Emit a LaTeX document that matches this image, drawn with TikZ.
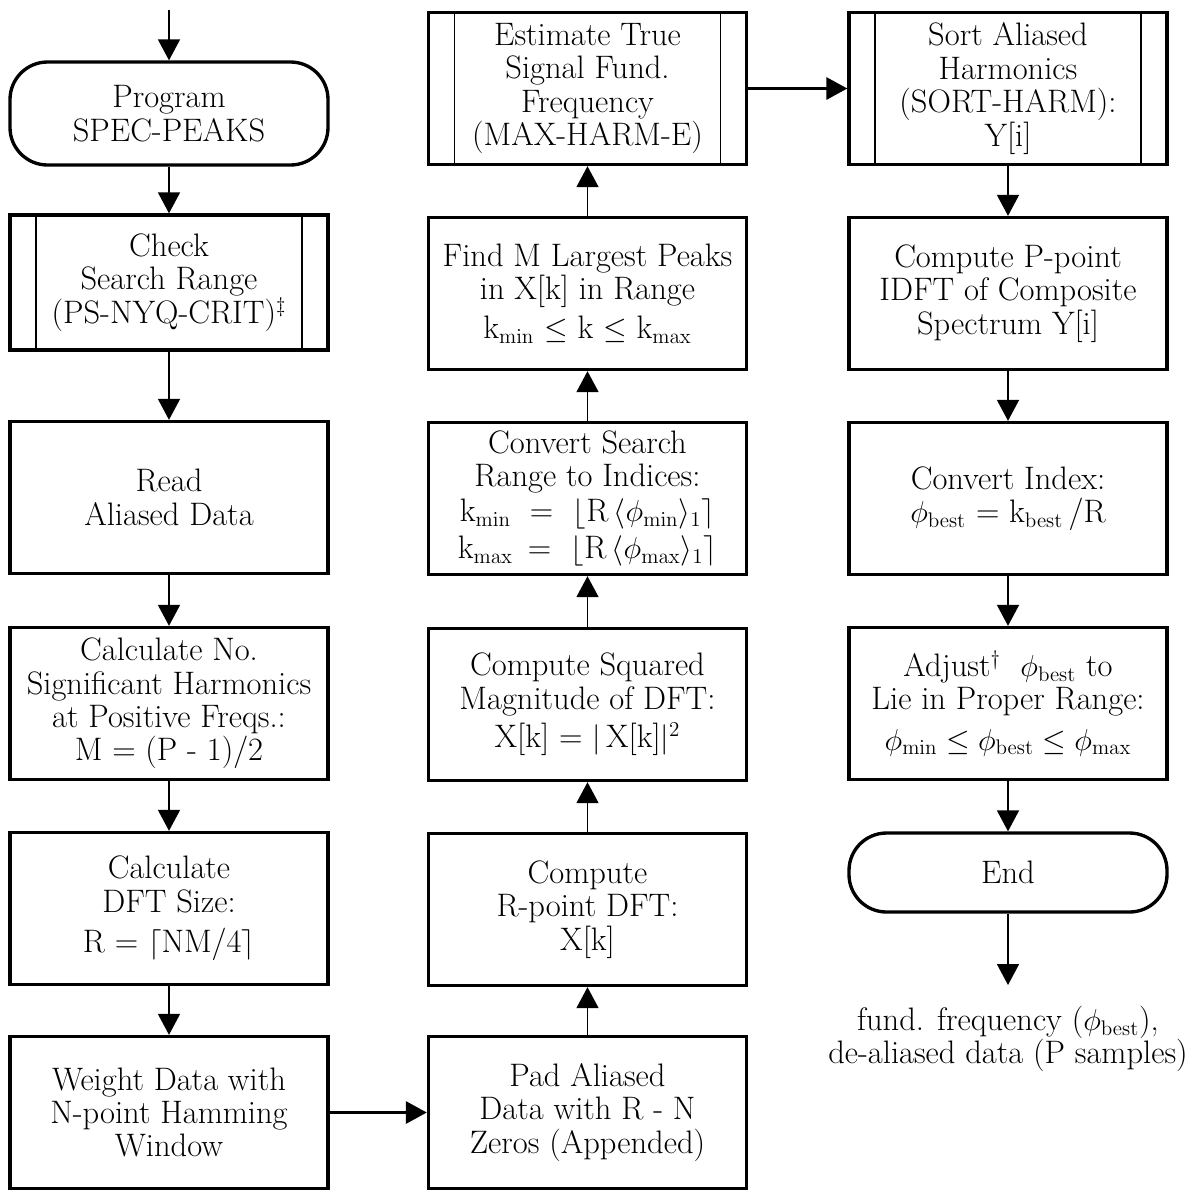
\documentclass[tikz,border=0pt]{standalone}
\usepackage{amsmath}
\usetikzlibrary{arrows.meta,positioning}

\begin{document}
\begin{tikzpicture}[
    box/.style={draw, line width=1.9pt, minimum width=6.36cm, minimum height=3.04cm,
      align=center, inner sep=1pt, font=\fontsize{18.5}{19}\selectfont},
    subbox/.style={box, path picture={
      \draw[line width=1pt] ([xshift=.52cm]path picture bounding box.north west) -- ([xshift=.52cm]path picture bounding box.south west)
        ([xshift=-.52cm]path picture bounding box.north east) -- ([xshift=-.52cm]path picture bounding box.south east);}},
    term/.style={box, rounded corners=.75cm},
    flow/.style={line width=1pt, -{Triangle[length=.42cm,width=.44cm]}},
    link/.style={flow, line width=1.8pt},
  ]
  \useasboundingbox (0,0) rectangle (23.96,-23.86);

  % left column
  \coordinate (in) at (3.38,-.2);
  \node (prog) [term, minimum height=2.06cm] at (3.38,-2.27) {Program\\SPEC-PEAKS};
  \node (check) [subbox, minimum height=2.7cm] at (3.38,-5.65) {Check\\Search Range\\(PS-NYQ-CRIT)$^{\ddagger}$};
  \node (read) [box] at (3.38,-9.95) {Read\\Aliased Data};
  \node (harm) [box] at (3.38,-14.07) {Calculate No.\\Significant Harmonics\\at Positive Freqs.:\\M = (P - 1)/2};
  \node (size) [box] at (3.38,-18.17) {Calculate\\DFT Size:\\[4pt]R = $\lceil$NM/4$\rceil$};
  \node (weight) [box] at (3.38,-22.25) {Weight Data with\\N-point Hamming\\Window};

  % middle column
  \node (pad) [box] at (11.75,-22.25) {Pad Aliased\\Data with R - N\\Zeros (Appended)};
  \node (dft) [box] at (11.75,-18.19) {Compute\\R-point DFT:\\X[k]};
  \node (sqr) [box] at (11.75,-14.09) {Compute Squared\\Magnitude of DFT:\\[3pt]X[k] = $|$\,X[k]$|^2$};
  \node (idx) [box] at (11.75,-9.97) {Convert Search\\Range to Indices:\\[1pt]
    \makebox[1.4cm][l]{k$_{\mathrm{min}}$}=\ \ $\lfloor$R\,$\langle\phi_{\mathrm{min}}\rangle_1\rceil$\\[2pt]
    \makebox[1.4cm][l]{k$_{\mathrm{max}}$}=\ \ $\lfloor$R\,$\langle\phi_{\mathrm{max}}\rangle_1\rceil$};
  \node (peaks) [box] at (11.75,-5.87) {Find M Largest Peaks\\in X[k] in Range\\[3pt]k$_{\mathrm{min}}$ $\le$ k $\le$ k$_{\mathrm{max}}$};
  \node (est) [subbox] at (11.75,-1.77) {Estimate True\\Signal Fund.\\Frequency\\(MAX-HARM-E)};

  % right column
  \node (sort) [subbox] at (20.16,-1.77) {Sort Aliased\\Harmonics\\(SORT-HARM):\\Y[i]};
  \node (idft) [box] at (20.16,-5.87) {Compute P-point\\IDFT of Composite\\Spectrum Y[i]};
  \node (conv) [box] at (20.16,-9.97) {Convert Index:\\$\phi_{\mathrm{best}}$ = k$_{\mathrm{best}}$\,/R};
  \node (adj) [box] at (20.16,-14.07) {Adjust$^{\dagger}$\ \ $\phi_{\mathrm{best}}$ to\\Lie in Proper Range:\\[4pt]
    $\phi_{\mathrm{min}} \le \phi_{\mathrm{best}} \le \phi_{\mathrm{max}}$};
  \node (end) [term, minimum height=1.58cm] at (20.16,-17.45) {End};
  \coordinate (out) at (20.16,-19.7);
  \node (res) [align=center, font=\fontsize{18.5}{19}\selectfont, below=.3cm of out]
    {fund. frequency ($\phi_{\mathrm{best}}$),\\de-aliased data (P samples)};

  \draw[flow] (in) -- (prog);
  \draw[flow] (prog) -- (check);
  \draw[flow] (check) -- (read);
  \draw[flow] (read) -- (harm);
  \draw[flow] (harm) -- (size);
  \draw[flow] (size) -- (weight);
  \draw[link] (weight) -- (pad);
  \draw[flow] (pad) -- (dft);
  \draw[flow] (dft) -- (sqr);
  \draw[flow] (sqr) -- (idx);
  \draw[flow] (idx) -- (peaks);
  \draw[flow] (peaks) -- (est);
  \draw[link] (est) -- (sort);
  \draw[flow] (sort) -- (idft);
  \draw[flow] (idft) -- (conv);
  \draw[flow] (conv) -- (adj);
  \draw[flow] (adj) -- (end);
  \draw[flow] (end) -- (out);
\end{tikzpicture}
\end{document}
